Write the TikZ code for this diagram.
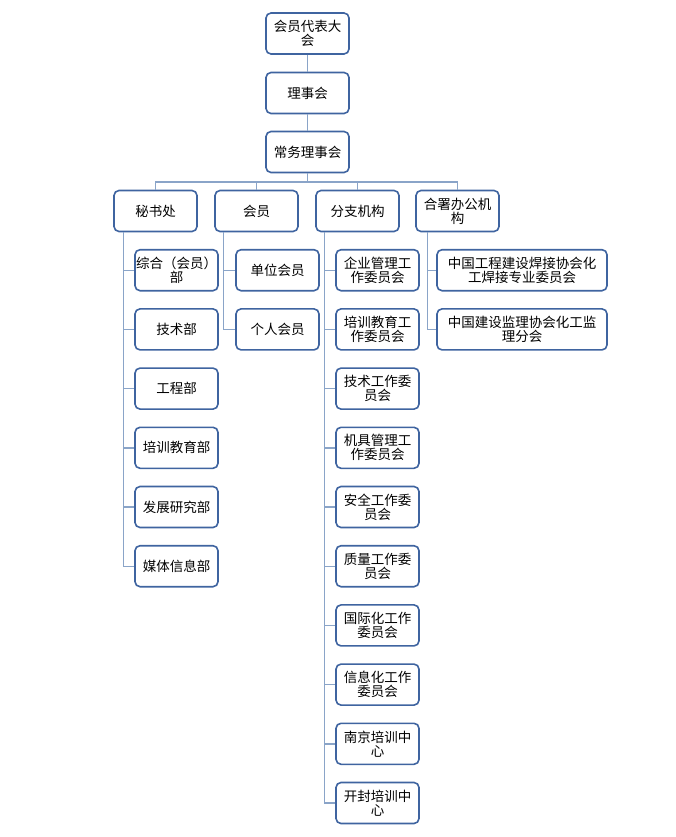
\documentclass[tikz,border=0pt]{standalone}
\usepackage{fontspec}
\setmainfont{Noto Sans CJK SC}
\usetikzlibrary{positioning}
\definecolor{boxBlue}{HTML}{3F64A0}
\definecolor{lineBlue}{HTML}{8AA4C8}
\tikzstyle{orgBox}=[draw=boxBlue, line width=1.6pt, rounded corners=5pt, fill=white,
  minimum height=41pt, minimum width=83pt, inner sep=1pt, align=center,
  font=\fontsize{13.5}{14}\selectfont]
\tikzstyle{orgLink}=[draw=lineBlue, line width=1.4pt]
\begin{document}
\begin{tikzpicture}[x=1pt,y=-1pt]
  \useasboundingbox (0,0) rectangle (675,837);

  % top chain
  \node[orgBox] (dbdh) at (307.5,33.5) {会员代表大\\会};
  \node[orgBox] (lsh) at (307.5,93) {理事会};
  \node[orgBox] (cwlsh) at (307.5,152) {常务理事会};
  \draw[orgLink] (dbdh) -- (lsh);
  \draw[orgLink] (lsh) -- (cwlsh);

  % second level
  \node[orgBox] (msc) at (155.5,211) {秘书处};
  \node[orgBox] (hy) at (256.5,211) {会员};
  \node[orgBox] (fzjg) at (357.5,211) {分支机构};
  \node[orgBox] (hsbg) at (457.5,211) {合署办公机\\构};

  \coordinate (bus) at (307.5,182);
  \draw[orgLink] (cwlsh) -- (bus);
  \foreach \n in {msc,hy,fzjg,hsbg}
    \draw[orgLink] (bus) -| (\n);

  % children
  \foreach \t [count=\i] in {综合（会员）\\部,技术部,工程部,培训教育部,发展研究部,媒体信息部}
    \node[orgBox] (msc\i) at (176.5,211+59.2*\i) {\t};
  \foreach \t [count=\i] in {单位会员,个人会员}
    \node[orgBox] (hy\i) at (277.5,211+59.2*\i) {\t};
  \foreach \t [count=\i] in {企业管理工\\作委员会,培训教育工\\作委员会,技术工作委\\员会,机具管理工\\作委员会,安全工作委\\员会,质量工作委\\员会,国际化工作\\委员会,信息化工作\\委员会,南京培训中\\心,开封培训中\\心}
    \node[orgBox] (fz\i) at (377.5,211+59.2*\i) {\t};
  \foreach \t [count=\i] in {中国工程建设焊接协会化\\工焊接专业委员会,中国建设监理协会化工监\\理分会}
    \node[orgBox, minimum width=170pt] (hs\i) at (522,211+59.2*\i) {\t};

  \foreach \i in {1,...,6} \draw[orgLink] ([xshift=-32pt]msc.south) |- (msc\i.west);
  \foreach \i in {1,2} \draw[orgLink] ([xshift=-33pt]hy.south) |- (hy\i.west);
  \foreach \i in {1,...,10} \draw[orgLink] ([xshift=-33pt]fzjg.south) |- (fz\i.west);
  \foreach \i in {1,2} \draw[orgLink] ([xshift=-30pt]hsbg.south) |- (hs\i.west);
\end{tikzpicture}
\end{document}
